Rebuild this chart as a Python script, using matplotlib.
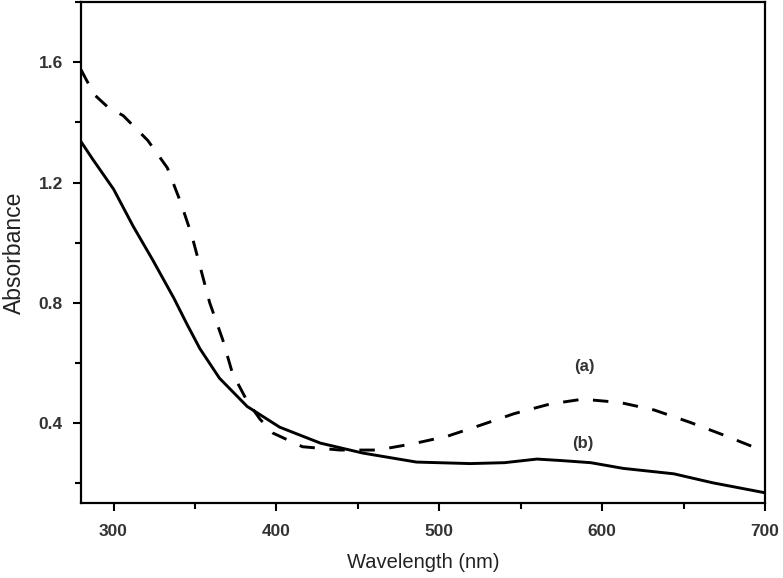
import matplotlib
matplotlib.use('Agg')
from matplotlib import pyplot as plt
from matplotlib.ticker import MultipleLocator

plt.rcParams['font.family'] = ['Liberation Sans', 'DejaVu Sans']

# curve (a), dashed
wl_a = [280, 288, 296, 306, 321, 333, 341, 348, 354, 359, 367, 373, 382, 390,
        398, 416, 439, 462, 484, 505, 525, 546, 568, 588, 611, 632, 654, 674, 700]
abs_a = [1.575, 1.493, 1.453, 1.422, 1.340, 1.249, 1.137, 1.025, 0.903, 0.801,
         0.678, 0.566, 0.474, 0.413, 0.367, 0.322, 0.311, 0.311, 0.332, 0.357,
         0.393, 0.432, 0.464, 0.480, 0.469, 0.444, 0.403, 0.362, 0.306]

# curve (b), solid
wl_b = [280, 287, 300, 312, 324, 337, 345, 353, 365, 382, 402, 427, 453, 486,
        519, 540, 560, 575, 593, 613, 644, 668, 700]
abs_b = [1.336, 1.279, 1.178, 1.055, 0.943, 0.816, 0.730, 0.648, 0.550, 0.456,
         0.387, 0.334, 0.301, 0.271, 0.266, 0.269, 0.281, 0.276, 0.269, 0.250,
         0.232, 0.202, 0.169]

labels = ['(a)', '(b)']
label_pos = [(589, 0.59), (588, 0.334)]

fig = plt.figure(figsize=(7.83, 5.78), dpi=100)
ax = fig.add_axes([81 / 783, 1 - 503 / 578, (765 - 81) / 783, 501 / 578])

ax.plot(wl_a, abs_a, color='black', lw=2.1, ls=(0, (5.3, 5.0)))
ax.plot(wl_b, abs_b, color='black', lw=2.1)

for t, (x, y) in zip(labels, label_pos):
    ax.text(x, y, t, ha='center', va='center', fontsize=12,
            fontweight='bold', color='#333333')

ax.set_xlim(280, 700)
ax.set_ylim(0.135, 1.80)
ax.xaxis.set_major_locator(MultipleLocator(100))
ax.xaxis.set_minor_locator(MultipleLocator(50))
ax.yaxis.set_minor_locator(MultipleLocator(0.2))
ax.set_yticks([0.4, 0.8, 1.2, 1.6])
ax.set_yticklabels(['0.4', '0.8', '1.2', '1.6'])
ax.tick_params(which='major', direction='out', length=6, width=1.5,
               labelsize=12.5, labelcolor='#333333', pad=7)
ax.tick_params(axis='x', which='major', pad=9)
ax.tick_params(which='minor', direction='out', length=4, width=1.5)
for lbl in ax.get_xticklabels() + ax.get_yticklabels():
    lbl.set_fontweight('bold')
for s in ax.spines.values():
    s.set_linewidth(1.6)

ax.set_xlabel('Wavelength (nm)', fontsize=14.5, color='#222222', labelpad=10)
ax.set_ylabel('Absorbance', fontsize=16.5, color='#222222', labelpad=9)

fig.savefig('out.png', dpi=100)
